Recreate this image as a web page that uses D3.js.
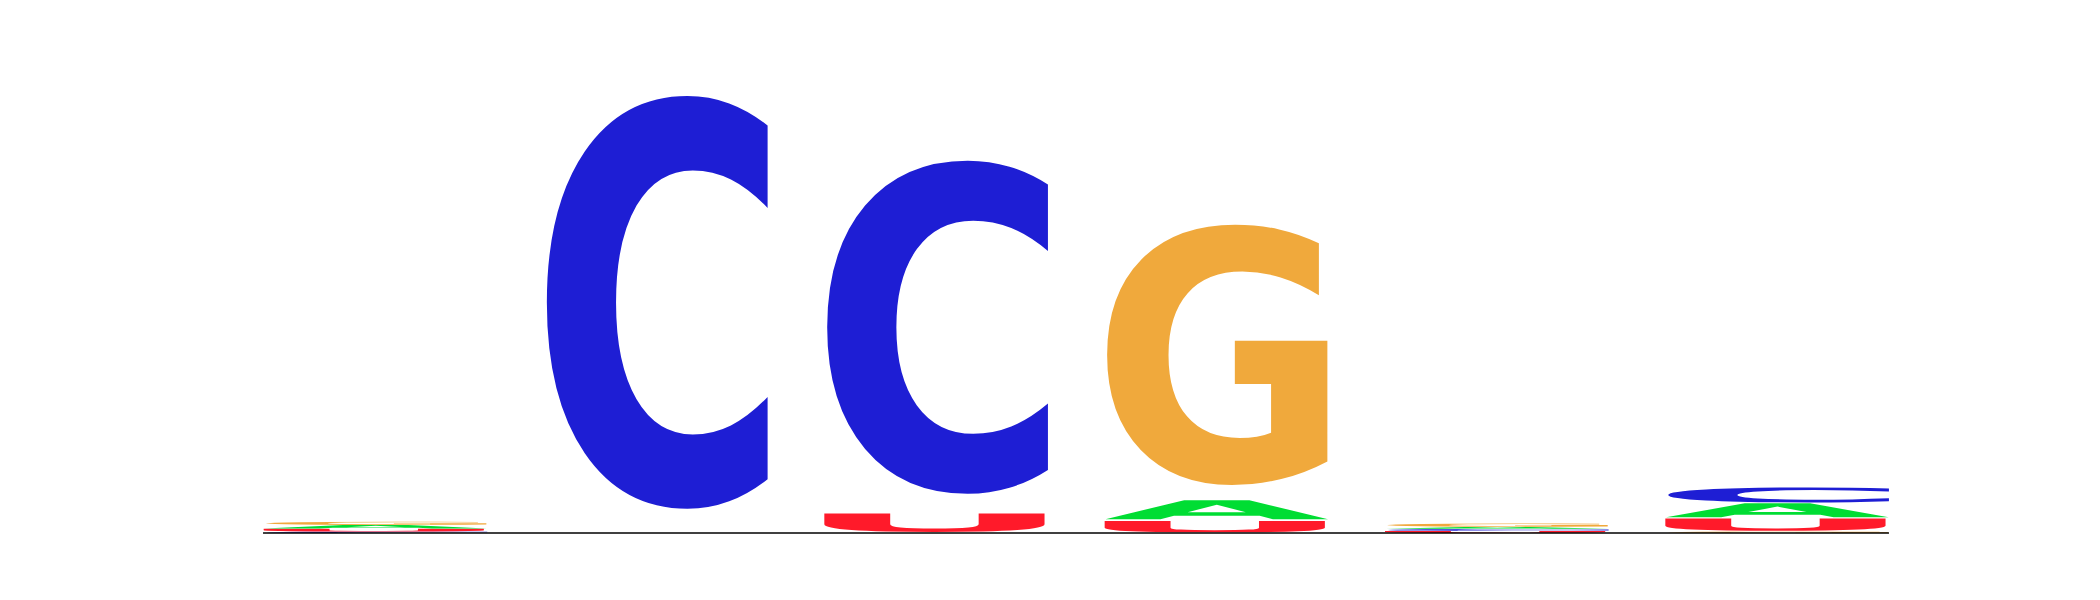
<!DOCTYPE html>
<meta charset="utf-8">
<script src="https://d3js.org/d3.v7.min.js"></script>
<style>
  body { margin: 0; background: #fff; }
</style>
<div id="chart"></div>
<script>
// positions along the motif
const positions = [1, 2, 3, 4, 5, 6];
// letter heights in bits, listed bottom to top for each position
const stacks = [
  [["C", 0.006], ["U", 0.013], ["A", 0.016], ["G", 0.015]],
  [["C", 1.948]],
  [["U", 0.087], ["C", 1.572]],
  [["U", 0.054], ["A", 0.091], ["G", 1.228]],
  [["U", 0.009], ["C", 0.009], ["A", 0.009], ["G", 0.015]],
  [["G", 0.007], ["U", 0.058], ["A", 0.066], ["C", 0.071]]
];
const letterColors = {A: "#00dd33", C: "#1e1ed4", G: "#f0a93c", U: "#ff1a2a"};

const width = 2100, height = 600;
const svg = d3.select("#chart")
  .append("svg")
  .attr("width", width)
  .attr("height", height);

const x = d3.scaleBand()
  .domain(positions)
  .range([235, 1917])
  .paddingInner(0.2)
  .paddingOuter(0.1);

const y = d3.scaleLinear()
  .domain([0, 2])
  .range([533, 80]);

// tight ink bounds of each glyph, measured on a canvas
const fontSpec = "bold 100px 'DejaVu Sans'";
const ctx = document.createElement("canvas").getContext("2d");
ctx.font = fontSpec;
const glyph = {};
Object.keys(letterColors).forEach(l => {
  const m = ctx.measureText(l);
  glyph[l] = {
    left: m.actualBoundingBoxLeft,
    w: m.actualBoundingBoxLeft + m.actualBoundingBoxRight,
    asc: m.actualBoundingBoxAscent,
    h: m.actualBoundingBoxAscent + m.actualBoundingBoxDescent
  };
});

const gap = 0.06; // blank share at the foot of each letter box

stacks.forEach((stack, i) => {
  let base = 0;
  stack.forEach(([letter, bits]) => {
    const y0 = y(base), y1 = y(base + bits);
    base += bits;
    const boxH = y0 - y1;
    const gh = boxH * (1 - gap);
    const g = glyph[letter];
    const sx = x.bandwidth() / g.w;
    const sy = gh / g.h;
    svg.append("text")
      .attr("x", 0)
      .attr("y", 0)
      .style("font", fontSpec)
      .attr("fill", letterColors[letter])
      .attr("transform",
        `translate(${x(positions[i])},${y1}) scale(${sx},${sy}) translate(${g.left},${g.asc})`)
      .text(letter);
  });
});

// baseline
svg.append("line")
  .attr("x1", x(positions[0]))
  .attr("x2", x(positions[positions.length - 1]) + x.bandwidth())
  .attr("y1", y(0))
  .attr("y2", y(0))
  .attr("stroke", "#000")
  .attr("stroke-width", 1.5);
</script>
